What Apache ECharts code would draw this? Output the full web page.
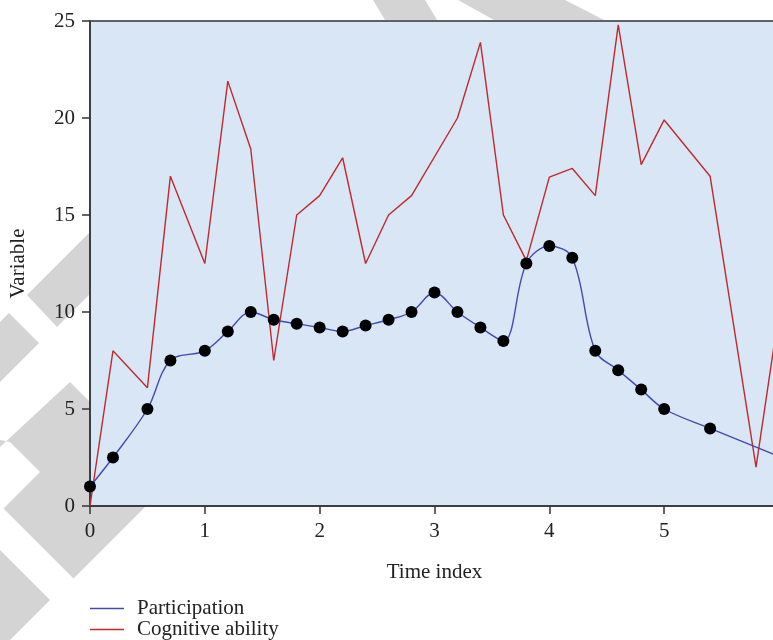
<!DOCTYPE html>
<html>
<head>
<meta charset="utf-8">
<script src="https://cdn.jsdelivr.net/npm/echarts@6/dist/echarts.min.js"></script>
<style>
html,body{margin:0;padding:0;background:#fff;}
#chart{width:773px;height:640px;}
</style>
</head>
<body>
<div id="chart"></div>
<script>
// ---- data ----
const seriesNames = ['Participation', 'Cognitive ability'];
const participationTime = [0, 0.2, 0.5, 0.7, 1.0, 1.2, 1.4, 1.6, 1.8, 2.0, 2.2, 2.4, 2.6, 2.8, 3.0, 3.2, 3.4, 3.6, 3.8, 4.0, 4.2, 4.4, 4.6, 4.8, 5.0, 5.4, 6.0];
const participation = [1.0, 2.5, 5.0, 7.5, 8.0, 9.0, 10.0, 9.6, 9.4, 9.2, 9.0, 9.3, 9.6, 10.0, 11.0, 10.0, 9.2, 8.5, 12.5, 13.4, 12.8, 8.0, 7.0, 6.0, 5.0, 4.0, 2.55];
const cognitiveTime = [0, 0.2, 0.5, 0.7, 1.0, 1.2, 1.4, 1.6, 1.8, 2.0, 2.2, 2.4, 2.6, 2.8, 3.2, 3.4, 3.6, 3.8, 4.0, 4.2, 4.4, 4.6, 4.8, 5.0, 5.4, 5.8, 6.0];
const cognitive = [0, 8.0, 6.1, 17.0, 12.5, 21.9, 18.4, 7.5, 15.0, 16.0, 17.95, 12.5, 15.0, 16.0, 20.0, 23.9, 15.0, 12.65, 16.95, 17.4, 16.0, 24.8, 17.6, 19.9, 17.0, 2.0, 10.0];
const xTicks = [0, 1, 2, 3, 4, 5, 6];
const yTicks = [0, 5, 10, 15, 20, 25];
const xName = 'Time index';
const yName = 'Variable';

// ---- build ----
const pData = participationTime.map((t, i) => [t, participation[i]]);
const cData = cognitiveTime.map((t, i) => [t, cognitive[i]]);
const FONT = 'Liberation Serif';
const FS = 21;
const TXT = '#222';
const AX = '#333';
const WM = '#d4d4d4';
const BLUE = '#4449b2';
const RED = '#c2292b';

function poly(points) {
  return { type: 'polygon', z: -10, silent: true, shape: { points: points }, style: { fill: WM } };
}

const chart = echarts.init(document.getElementById('chart'), null, { renderer: 'canvas' });
chart.setOption({
  animation: false,
  backgroundColor: '#fff',
  graphic: [
    poly([[90,232],[27,295],[57,327],[90,294]]),
    poly([[0,322],[9,313],[39,343],[0,382]]),
    poly([[70,382],[90,402],[90,506],[74,506],[10,442],[0,440],[0,447]]),
    poly([[3.5,508.5],[90,422],[90,506],[146,506],[73.5,578.5]]),
    poly([[0,550],[50,600],[10,640],[0,640]]),
    poly([[373,0],[425,0],[437,20],[385,20]]),
    poly([[458,0],[565,0],[604,20],[494,20]])
  ],
  grid: {
    left: 90, top: 21, right: -6, bottom: 134,
    outerBoundsMode: 'none',
    containLabel: false,
    show: true, backgroundColor: '#d8e6f5',
    borderColor: AX, borderWidth: 1.5
  },
  legend: {
    data: [
      { name: seriesNames[0], itemStyle: { color: BLUE } },
      { name: seriesNames[1], itemStyle: { color: RED } }
    ],
    orient: 'vertical',
    left: 90, top: 598, height: 60, padding: 0,
    icon: 'rect',
    itemWidth: 34, itemHeight: 1.5, itemGap: 0,
    textStyle: { fontFamily: FONT, fontSize: FS, color: TXT, padding: [0, 0, 0, 8] }
  },
  xAxis: {
    type: 'value',
    min: xTicks[0], max: xTicks[xTicks.length - 1], interval: 1,
    name: xName, nameLocation: 'middle', nameGap: 56,
    nameTextStyle: { fontFamily: FONT, fontSize: FS, color: TXT },
    axisLine: { lineStyle: { color: AX, width: 1.5 } },
    axisTick: { show: true, length: 8, lineStyle: { color: AX, width: 1.5 } },
    axisLabel: { fontFamily: FONT, fontSize: FS, color: TXT, margin: 15 },
    splitLine: { show: false }
  },
  yAxis: {
    type: 'value',
    min: yTicks[0], max: yTicks[yTicks.length - 1], interval: 5,
    name: yName, nameLocation: 'middle', nameGap: 61,
    nameTextStyle: { fontFamily: FONT, fontSize: FS, color: TXT },
    axisLine: { show: true, lineStyle: { color: AX, width: 1.5 } },
    axisTick: { show: true, length: 8, lineStyle: { color: AX, width: 1.5 } },
    axisLabel: { fontFamily: FONT, fontSize: FS, color: TXT, margin: 15 },
    splitLine: { show: false }
  },
  series: [
    {
      name: seriesNames[1], type: 'line', data: cData,
      symbol: 'none', lineStyle: { color: RED, width: 1.4 },
      itemStyle: { color: RED }, z: 2
    },
    {
      name: seriesNames[0], type: 'line', data: pData, smooth: 0.35,
      symbol: 'none', lineStyle: { color: BLUE, width: 1.4 },
      itemStyle: { color: BLUE }, z: 3
    },
    {
      name: 'dots', type: 'scatter', data: pData,
      symbol: 'circle', symbolSize: 12,
      itemStyle: { color: '#000', opacity: 1 }, z: 4
    }
  ]
});
</script>
</body>
</html>
